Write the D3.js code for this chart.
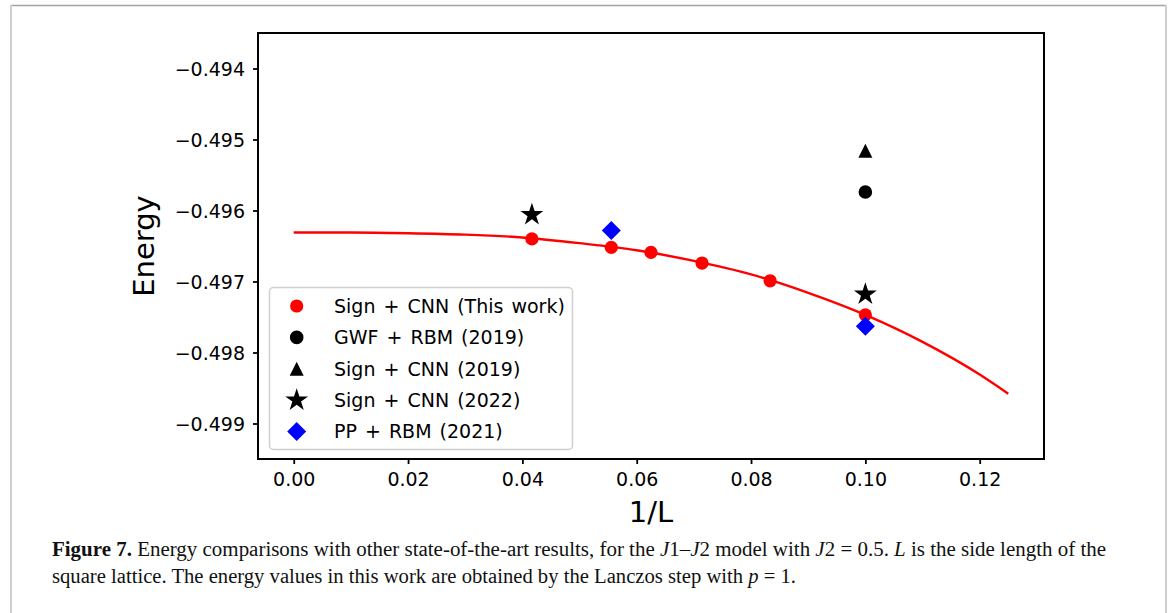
<!DOCTYPE html>
<html>
<head>
<meta charset="utf-8">
<script src="https://cdn.jsdelivr.net/npm/d3@7"></script>
<style>
  html, body { margin: 0; padding: 0; background: #fff; }
  svg { display: block; }
</style>
</head>
<body>
<svg id="chart" width="1170" height="613"></svg>
<script>
// ---- data ----
const xTicks = [0.00, 0.02, 0.04, 0.06, 0.08, 0.10, 0.12];
const yTicks = [-0.494, -0.495, -0.496, -0.497, -0.498, -0.499];

// Sign + CNN (This work): 1/L for L = 24, 18, 16, 14, 12, 10
const thisWorkX = [1/24, 1/18, 1/16, 1/14, 1/12, 1/10];
const thisWorkE = [-0.49640, -0.49652, -0.49659, -0.49674, -0.49699, -0.49747];

// fitted curve
const fitX = [0, 0.01, 0.02, 0.03, 0.04, 0.05, 0.06, 0.07, 0.08, 0.09, 0.10, 0.11, 0.12, 0.125];
const fitE = [-0.49631, -0.49631, -0.49632, -0.49634, -0.49638, -0.49646, -0.49656, -0.49671, -0.49690, -0.49716, -0.49747, -0.49785, -0.49831, -0.49858];

const gwfX = [1/10];
const gwfE = [-0.49574];

const cnn2019X = [1/10];
const cnn2019E = [-0.49516];

const cnn2022X = [1/24, 1/10];
const cnn2022E = [-0.49606, -0.49718];

const ppX = [1/18, 1/10];
const ppE = [-0.49628, -0.49763];

const legendLabels = ["Sign + CNN (This work)", "GWF + RBM (2019)", "Sign + CNN (2019)", "Sign + CNN (2022)", "PP + RBM (2021)"];

// ---- layout ----
const svg = d3.select("#chart");
const pLeft = 258, pRight = 1044, pTop = 33, pBottom = 459;
const x = d3.scaleLinear().domain([-0.00625, 0.13125]).range([pLeft, pRight]);
const y = d3.scaleLinear().domain([-0.4995, -0.4935]).range([pBottom, pTop]);
const tickFont = "'DejaVu Sans', sans-serif";
const fmtX = d3.format(".2f");
const fmtY = v => d3.format(".3f")(v).replace("-", "\u2212");

// figure frame (page border)
svg.append("line").attr("x1", 11).attr("x2", 1166).attr("y1", 5.5).attr("y2", 5.5)
  .attr("stroke", "#a3a3a3").attr("stroke-width", 1.5);
svg.append("line").attr("x1", 11).attr("x2", 11).attr("y1", 5).attr("y2", 613)
  .attr("stroke", "#cfcfcf").attr("stroke-width", 2);
svg.append("line").attr("x1", 1166).attr("x2", 1166).attr("y1", 5).attr("y2", 613)
  .attr("stroke", "#cfcfcf").attr("stroke-width", 2);

// axes
const xAxis = d3.axisBottom(x).tickValues(xTicks).tickSize(5).tickPadding(9).tickFormat(fmtX);
const yAxis = d3.axisLeft(y).tickValues(yTicks).tickSize(5).tickPadding(8).tickFormat(fmtY);

const gx = svg.append("g").attr("transform", `translate(0,${pBottom})`).call(xAxis);
const gy = svg.append("g").attr("transform", `translate(${pLeft},0)`).call(yAxis);
[gx, gy].forEach(g => {
  g.select(".domain").remove();
  g.selectAll(".tick line").attr("stroke", "#000").attr("stroke-width", 1.8);
  g.selectAll(".tick text").attr("fill", "#000").attr("font-family", tickFont).attr("font-size", 19);
});
gx.selectAll(".tick text").attr("dy", "0.71em");
gy.selectAll(".tick text").attr("dy", "0.36em");

// clip
svg.append("clipPath").attr("id", "clip").append("rect")
  .attr("x", pLeft).attr("y", pTop).attr("width", pRight - pLeft).attr("height", pBottom - pTop);

const plot = svg.append("g").attr("clip-path", "url(#clip)");

// fitted curve
const fitData = fitX.map((v, i) => [v, fitE[i]]);
plot.append("path").datum(fitData)
  .attr("fill", "none").attr("stroke", "#ff0000").attr("stroke-width", 2.4)
  .attr("d", d3.line().x(d => x(d[0])).y(d => y(d[1])).curve(d3.curveMonotoneX));

// custom matplotlib-like triangle (width == height)
const triUp = {
  draw(ctx, size) {
    const r = Math.sqrt(size) / 2;
    ctx.moveTo(0, -r); ctx.lineTo(r, r); ctx.lineTo(-r, r); ctx.closePath();
  }
};
// diamond = square rotated 45deg
const diamond = {
  draw(ctx, size) {
    const r = Math.sqrt(size) / 2;
    ctx.moveTo(0, -r); ctx.lineTo(r, 0); ctx.lineTo(0, r); ctx.lineTo(-r, 0); ctx.closePath();
  }
};

const styles = [
  { type: d3.symbolCircle, size: Math.PI * 6.6 * 6.6, color: "#ff0000" },
  { type: d3.symbolCircle, size: Math.PI * 6.8 * 6.8, color: "#000000" },
  { type: triUp, size: 14 * 14, color: "#000000" },
  { type: d3.symbolStar, size: 12 * 12 / 0.8908130915, color: "#000000" },
  { type: diamond, size: 19 * 19, color: "#0000ff" }
];

const series = [
  [thisWorkX, thisWorkE],
  [gwfX, gwfE],
  [cnn2019X, cnn2019E],
  [cnn2022X, cnn2022E],
  [ppX, ppE]
];

series.forEach(([xs, es], k) => {
  const st = styles[k];
  plot.selectAll(null).data(xs.map((v, i) => [v, es[i]])).enter().append("path")
    .attr("transform", d => `translate(${x(d[0])},${y(d[1])})`)
    .attr("d", d3.symbol().type(st.type).size(st.size))
    .attr("fill", st.color);
});

// frame
svg.append("rect").attr("x", pLeft).attr("y", pTop).attr("width", pRight - pLeft).attr("height", pBottom - pTop)
  .attr("fill", "none").attr("stroke", "#000").attr("stroke-width", 2);

// legend
const lg = svg.append("g");
lg.append("rect").attr("x", 269.5).attr("y", 287.5).attr("width", 303).attr("height", 162).attr("rx", 4)
  .attr("fill", "#fff").attr("fill-opacity", 0.8).attr("stroke", "#d0d0d0").attr("stroke-width", 1.5);
legendLabels.forEach((lab, i) => {
  const cy = 306 + i * 31.4;
  const st = styles[i];
  lg.append("path").attr("transform", `translate(296.7,${cy})`)
    .attr("d", d3.symbol().type(st.type).size(st.size)).attr("fill", st.color);
  lg.append("text").attr("x", 334).attr("y", cy).attr("dy", "0.36em")
    .attr("font-family", tickFont).attr("font-size", 19).attr("word-spacing", 2).attr("fill", "#000").text(lab);
});

// axis labels
svg.append("text").attr("transform", `translate(154,${(pTop + pBottom) / 2}) rotate(-90)`)
  .attr("text-anchor", "middle").attr("font-family", tickFont).attr("font-size", 29).attr("fill", "#000")
  .text("Energy");
svg.append("text").attr("x", (pLeft + pRight) / 2).attr("y", 522)
  .attr("text-anchor", "middle").attr("font-family", tickFont).attr("font-size", 29).attr("fill", "#000")
  .text("1/L");

// caption
const capFont = "'Liberation Serif', 'DejaVu Serif', serif";
const cap1 = svg.append("text").attr("x", 52).attr("y", 556)
  .attr("font-family", capFont).attr("font-size", 20).attr("fill", "#111")
  .attr("textLength", 1054).attr("lengthAdjust", "spacingAndGlyphs");
cap1.append("tspan").attr("font-weight", "bold").text("Figure 7.");
cap1.append("tspan").text(" Energy comparisons with other state-of-the-art results, for the ");
cap1.append("tspan").attr("font-style", "italic").text("J");
cap1.append("tspan").text("1–");
cap1.append("tspan").attr("font-style", "italic").text("J");
cap1.append("tspan").text("2 model with ");
cap1.append("tspan").attr("font-style", "italic").text("J");
cap1.append("tspan").text("2 = 0.5. ");
cap1.append("tspan").attr("font-style", "italic").text("L");
cap1.append("tspan").text(" is the side length of the");

const cap2 = svg.append("text").attr("x", 52).attr("y", 583)
  .attr("font-family", capFont).attr("font-size", 20).attr("fill", "#111")
  .attr("textLength", 744).attr("lengthAdjust", "spacingAndGlyphs");
cap2.append("tspan").text("square lattice. The energy values in this work are obtained by the Lanczos step with ");
cap2.append("tspan").attr("font-style", "italic").text("p");
cap2.append("tspan").text(" = 1.");
</script>
</body>
</html>
